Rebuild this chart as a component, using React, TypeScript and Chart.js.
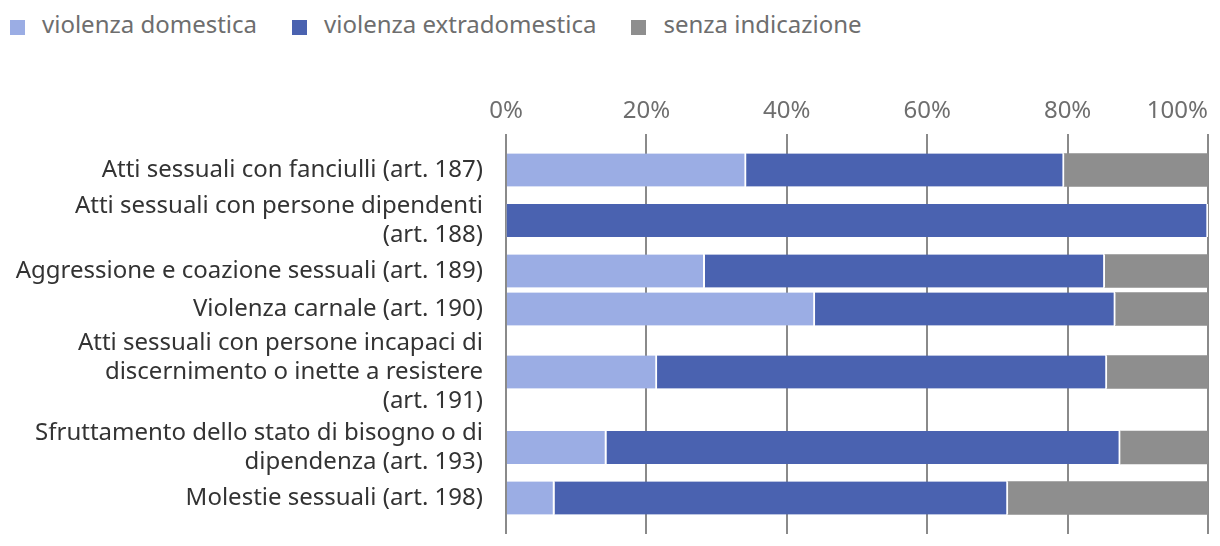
import React, { useEffect, useRef } from "react";
import { Chart, registerables } from "chart.js";

Chart.register(...registerables);

// ---------- data ----------
const categories: string[][] = [
  ["Atti sessuali con fanciulli (art. 187)"],
  ["Atti sessuali con persone dipendenti", "(art. 188)"],
  ["Aggressione e coazione sessuali (art. 189)"],
  ["Violenza carnale (art. 190)"],
  ["Atti sessuali con persone incapaci di", "discernimento o inette a resistere", "(art. 191)"],
  ["Sfruttamento dello stato di bisogno o di", "dipendenza (art. 193)"],
  ["Molestie sessuali (art. 198)"],
];
const seriesNames = ["violenza domestica", "violenza extradomestica", "senza indicazione"];
const domestica = [34.2, 0, 28.3, 44.0, 21.5, 14.3, 6.9];
const extradomestica = [45.3, 100, 57.0, 42.8, 64.1, 73.2, 64.6];
const senzaIndicazione = [20.5, 0, 14.7, 13.2, 14.4, 12.5, 28.5];
const xTickValues = [0, 20, 40, 60, 80, 100];
const xTickLabels = ["0%", "20%", "40%", "60%", "80%", "100%"];

// ---------- styles / layout ----------
const FONT = '"Noto Sans", "Open Sans", sans-serif';
const FONT_SIZE = 24;
const COLORS = ["#9bade4", "#4a62b0", "#8e8e8e"];
const ROW_BASE = 38;
const ROW_PER_LINE = 25;
const ROW_PAD = 17;

function rowLayout() {
  const heights = categories.map((c) => ROW_BASE + ROW_PER_LINE * (c.length - 1));
  const centers: number[] = [];
  let acc = ROW_PAD;
  heights.forEach((h) => {
    centers.push(acc + h / 2);
    acc += h;
  });
  return { centers, total: acc + ROW_PAD };
}

export default function App() {
  const canvasRef = useRef<HTMLCanvasElement | null>(null);

  useEffect(() => {
    if (!canvasRef.current) return;
    const { centers, total } = rowLayout();
    const seriesValues = [domestica, extradomestica, senzaIndicazione];

    const xLabelsPlugin = {
      id: "xLabels",
      afterDraw(chart: any) {
        const xs = chart.scales.x;
        const ctx = chart.ctx;
        ctx.save();
        ctx.font = `${FONT_SIZE}px ${FONT}`;
        ctx.fillStyle = "#6e6e6e";
        ctx.textBaseline = "alphabetic";
        ctx.textAlign = "left";
        xTickValues.forEach((v, i) => {
          const px = xs.getPixelForValue(v);
          const label = xTickLabels[i];
          const w = ctx.measureText(label).width;
          let left = px - w / 2;
          if (left + w > chart.width - 4) left = px - w;
          ctx.fillText(label, left, 118);
        });
        ctx.restore();
      },
    };

    const chart = new Chart(canvasRef.current, {
      type: "bar",
      data: {
        datasets: seriesNames.map((name, si) => ({
          label: name,
          data: seriesValues[si].map((v, i) => ({ x: v, y: centers[i] })),
          backgroundColor: COLORS[si],
          borderColor: "#ffffff",
          borderWidth: si < 2 ? { left: 0, top: 0, bottom: 0, right: 2 } : 0,
          borderSkipped: false,
          barThickness: 33,
        })) as any,
      },
      options: {
        indexAxis: "y",
        animation: false,
        responsive: true,
        maintainAspectRatio: false,
        layout: { padding: { top: 134, bottom: 12, right: 12, left: 0 } },
        plugins: {
          legend: { display: false },
          tooltip: { enabled: false },
        },
        scales: {
          x: {
            type: "linear",
            position: "top",
            min: 0,
            max: 100,
            stacked: true,
            afterBuildTicks: (scale: any) => {
              scale.ticks = xTickValues.map((v) => ({ value: v }));
            },
            afterFit: (scale: any) => {
              scale.paddingLeft = 0;
              scale.paddingRight = 0;
              scale.height = 0;
            },
            ticks: { display: false },
            grid: { color: "#8a8a8a", lineWidth: 2, drawTicks: false, tickLength: 0 },
            border: { display: false },
          },
          y: {
            type: "linear",
            position: "left",
            reverse: true,
            min: 0,
            max: total,
            stacked: true,
            offset: false,
            afterBuildTicks: (scale: any) => {
              scale.ticks = centers.map((v) => ({ value: v }));
            },
            afterFit: (scale: any) => {
              scale.width = 506;
              scale.paddingTop = 0;
              scale.paddingBottom = 0;
            },
            ticks: {
              autoSkip: false,
              padding: 23,
              color: "#333333",
              font: { family: FONT, size: FONT_SIZE, lineHeight: 1.21 },
              callback: (_v: any, index: number) => categories[index],
            },
            grid: { display: false, drawTicks: false, tickLength: 0 },
            border: { display: false },
          },
        },
      } as any,
      plugins: [xLabelsPlugin],
    });
    return () => chart.destroy();
  }, []);

  return (
    <div
      style={{
        position: "absolute",
        left: 0,
        top: 0,
        width: 1220,
        height: 546,
        fontFamily: FONT,
        background: "#fff",
      }}
    >
      <div
        style={{
          position: "absolute",
          left: 10,
          top: 9,
          display: "flex",
          fontSize: FONT_SIZE,
          lineHeight: "30px",
          color: "#6e6e6e",
          whiteSpace: "nowrap",
        }}
      >
        {seriesNames.map((name, i) => (
          <div key={name} style={{ display: "flex", alignItems: "flex-start", marginRight: 35 }}>
            <span
              style={{
                display: "inline-block",
                width: 15,
                height: 15,
                marginTop: 11,
                marginRight: 17,
                background: COLORS[i],
              }}
            />
            <span>{name}</span>
          </div>
        ))}
      </div>
      <canvas ref={canvasRef} style={{ position: "absolute", left: 0, top: 0, width: 1220, height: 546 }} />
    </div>
  );
}
